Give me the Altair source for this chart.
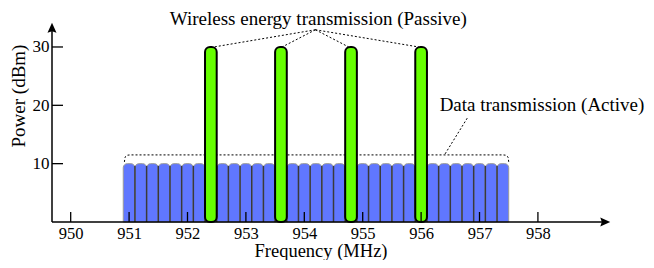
import altair as alt
import pandas as pd

# ---------------- data ----------------
channels = [951.0, 951.2, 951.4, 951.6, 951.8, 952.0, 952.2, 952.4, 952.6, 952.8,
            953.0, 953.2, 953.4, 953.6, 953.8, 954.0, 954.2, 954.4, 954.6, 954.8,
            955.0, 955.2, 955.4, 955.6, 955.8, 956.0, 956.2, 956.4, 956.6, 956.8,
            957.0, 957.2, 957.4]
data_power = [10, 10, 10, 10, 10, 10, 10, 10, 10, 10, 10, 10, 10, 10, 10, 10, 10,
              10, 10, 10, 10, 10, 10, 10, 10, 10, 10, 10, 10, 10, 10, 10, 10]
energy_freqs = [952.4, 953.6, 954.8, 956.0]
energy_power = [30, 30, 30, 30]
channel_width = 0.2

x_tick_values = [950, 951, 952, 953, 954, 955, 956, 957, 958]
y_tick_values = [10, 20, 30]

energy_label = "Wireless energy transmission (Passive)"
energy_label_pos = [954.24, 33.77]
energy_leader_from = [954.19, 32.95]
energy_leader_to_x = [952.45, 953.62, 954.76, 955.96]
energy_leader_to_y = [30, 30, 30, 30]

data_label = "Data transmission (Active)"
data_label_pos = [958.07, 19.03]
data_leader_x = [956.79, 956.40]
data_leader_y = [17.8, 11.5]

bracket_x = [950.92, 950.93, 950.97, 951.02, 957.40, 957.45, 957.49, 957.50]
bracket_y = [10.3, 11.1, 11.45, 11.5, 11.5, 11.45, 11.1, 10.3]

x_title = "Frequency (MHz)"
y_title = "Power (dBm)"

# ---------------- layout ----------------
W, H = 556, 199
FONT = "Liberation Serif"
xs = alt.Scale(domain=[949.68, 959.2], nice=False, zero=False)
ys = alt.Scale(domain=[0, 34.11], nice=False, zero=False)

x_axis = alt.Axis(values=x_tick_values, ticks=False, domain=False, grid=False,
                  labelFont=FONT, labelFontSize=16.5, labelColor="black",
                  labelPadding=3, title=None)
y_axis = alt.Axis(values=y_tick_values, ticks=False, domain=False, grid=False,
                  labelFont=FONT, labelFontSize=17, labelColor="black",
                  labelPadding=3, title=None)


def X(f):
    return alt.X(f, type="quantitative", scale=xs, axis=x_axis)


def Y(f):
    return alt.Y(f, type="quantitative", scale=ys, axis=y_axis)


half = channel_width / 2
df_data = pd.DataFrame({"c": channels, "p": data_power})
df_data["x0"] = df_data["c"] - half
df_data["x1"] = df_data["c"] + half
df_data["b"] = 0

df_sep = pd.DataFrame({"x": [c + half for c in channels[:-1]]})
df_sep["y0"] = 0
df_sep["y1"] = 9.6

df_energy = pd.DataFrame({"c": energy_freqs, "p": energy_power})
df_energy["x0"] = df_energy["c"] - half
df_energy["x1"] = df_energy["c"] + half
df_energy["b"] = 0

blue = alt.Chart(df_data).mark_bar(
    color="#6077ff", stroke="#9a9a9a", strokeWidth=1,
    cornerRadiusTopLeft=4, cornerRadiusTopRight=4
).encode(x=X("x0"), x2="x1", y=Y("p"), y2="b")

seps = alt.Chart(df_sep).mark_rule(color="#3a3a3a", strokeWidth=1.5).encode(
    x=X("x"), y=Y("y0"), y2="y1")

green = alt.Chart(df_energy).mark_bar(
    color="#66ff00", stroke="black", strokeWidth=2, cornerRadius=5
).encode(x=X("x0"), x2="x1", y=Y("p"), y2="b")

df_el = pd.DataFrame({"x": [energy_leader_from[0]] * 4, "y": [energy_leader_from[1]] * 4,
                      "x2": energy_leader_to_x, "y2": energy_leader_to_y})
energy_leaders = alt.Chart(df_el).mark_rule(
    color="black", strokeWidth=1, strokeDash=[2, 2]
).encode(x=X("x"), y=Y("y"), x2="x2", y2="y2")

df_dl = pd.DataFrame({"x": [data_leader_x[0]], "y": [data_leader_y[0]],
                      "x2": [data_leader_x[1]], "y2": [data_leader_y[1]]})
data_leader = alt.Chart(df_dl).mark_rule(
    color="black", strokeWidth=1, strokeDash=[2, 2]
).encode(x=X("x"), y=Y("y"), x2="x2", y2="y2")

df_br = pd.DataFrame({"x": bracket_x, "y": bracket_y, "o": list(range(len(bracket_x)))})
bracket = alt.Chart(df_br).mark_line(
    color="black", strokeWidth=1, strokeDash=[2, 2]
).encode(x=X("x"), y=Y("y"), order="o:Q")

df_xt = pd.DataFrame({"v": x_tick_values})
x_ticks = alt.Chart(df_xt).mark_rule(color="black", strokeWidth=1.3).encode(
    x=X("v"), y=alt.value(H), y2=alt.value(H - 10))

df_yt = pd.DataFrame({"v": y_tick_values})
y_ticks = alt.Chart(df_yt).mark_rule(color="black", strokeWidth=1.3).encode(
    y=Y("v"), x=alt.value(0), x2=alt.value(11))

one = pd.DataFrame({"a": [0]})
y_line = alt.Chart(one).mark_rule(color="black", strokeWidth=1.5).encode(
    x=alt.value(0), y=alt.value(4), y2=alt.value(H))
x_line = alt.Chart(one).mark_rule(color="black", strokeWidth=1.5).encode(
    x=alt.value(0), x2=alt.value(W - 4), y=alt.value(H))

up_arrow = "M0,-1L0.72,0.6L0,0.35L-0.72,0.6Z"
right_arrow = "M1,0L-0.6,0.72L-0.35,0L-0.6,-0.72Z"
y_arrow = alt.Chart(one).mark_point(shape=up_arrow, filled=True, color="black",
                                    size=156, opacity=1).encode(
    x=alt.value(0), y=alt.value(6))
x_arrow = alt.Chart(one).mark_point(shape=right_arrow, filled=True, color="black",
                                    size=156, opacity=1).encode(
    x=alt.value(W - 4), y=alt.value(H))

df_txt = pd.DataFrame({"x": [energy_label_pos[0], data_label_pos[0]],
                       "y": [energy_label_pos[1], data_label_pos[1]],
                       "t": [energy_label, data_label]})
labels = alt.Chart(df_txt).mark_text(
    font=FONT, fontSize=19, align="center", baseline="alphabetic", color="black"
).encode(x=X("x"), y=Y("y"), text="t:N")

xt = alt.Chart(one).mark_text(
    font=FONT, fontSize=18.5, align="center", baseline="alphabetic", color="black",
    text=x_title).encode(x=alt.value(269), y=alt.value(234))
yt = alt.Chart(one).mark_text(
    font=FONT, fontSize=19, align="center", baseline="alphabetic", color="black",
    angle=270, text=y_title).encode(x=alt.value(-27), y=alt.value(73))

chart = alt.layer(
    blue, seps, bracket, green, energy_leaders, data_leader,
    x_ticks, y_ticks, y_line, x_line, y_arrow, x_arrow, labels, xt, yt
).properties(
    width=W, height=H,
    autosize=alt.AutoSizeParams(type="none"),
    padding={"left": 44, "top": 15, "right": 38, "bottom": 38},
).configure_view(stroke=None)

chart.save("out.html", embed_options={"renderer": "svg", "actions": False})
